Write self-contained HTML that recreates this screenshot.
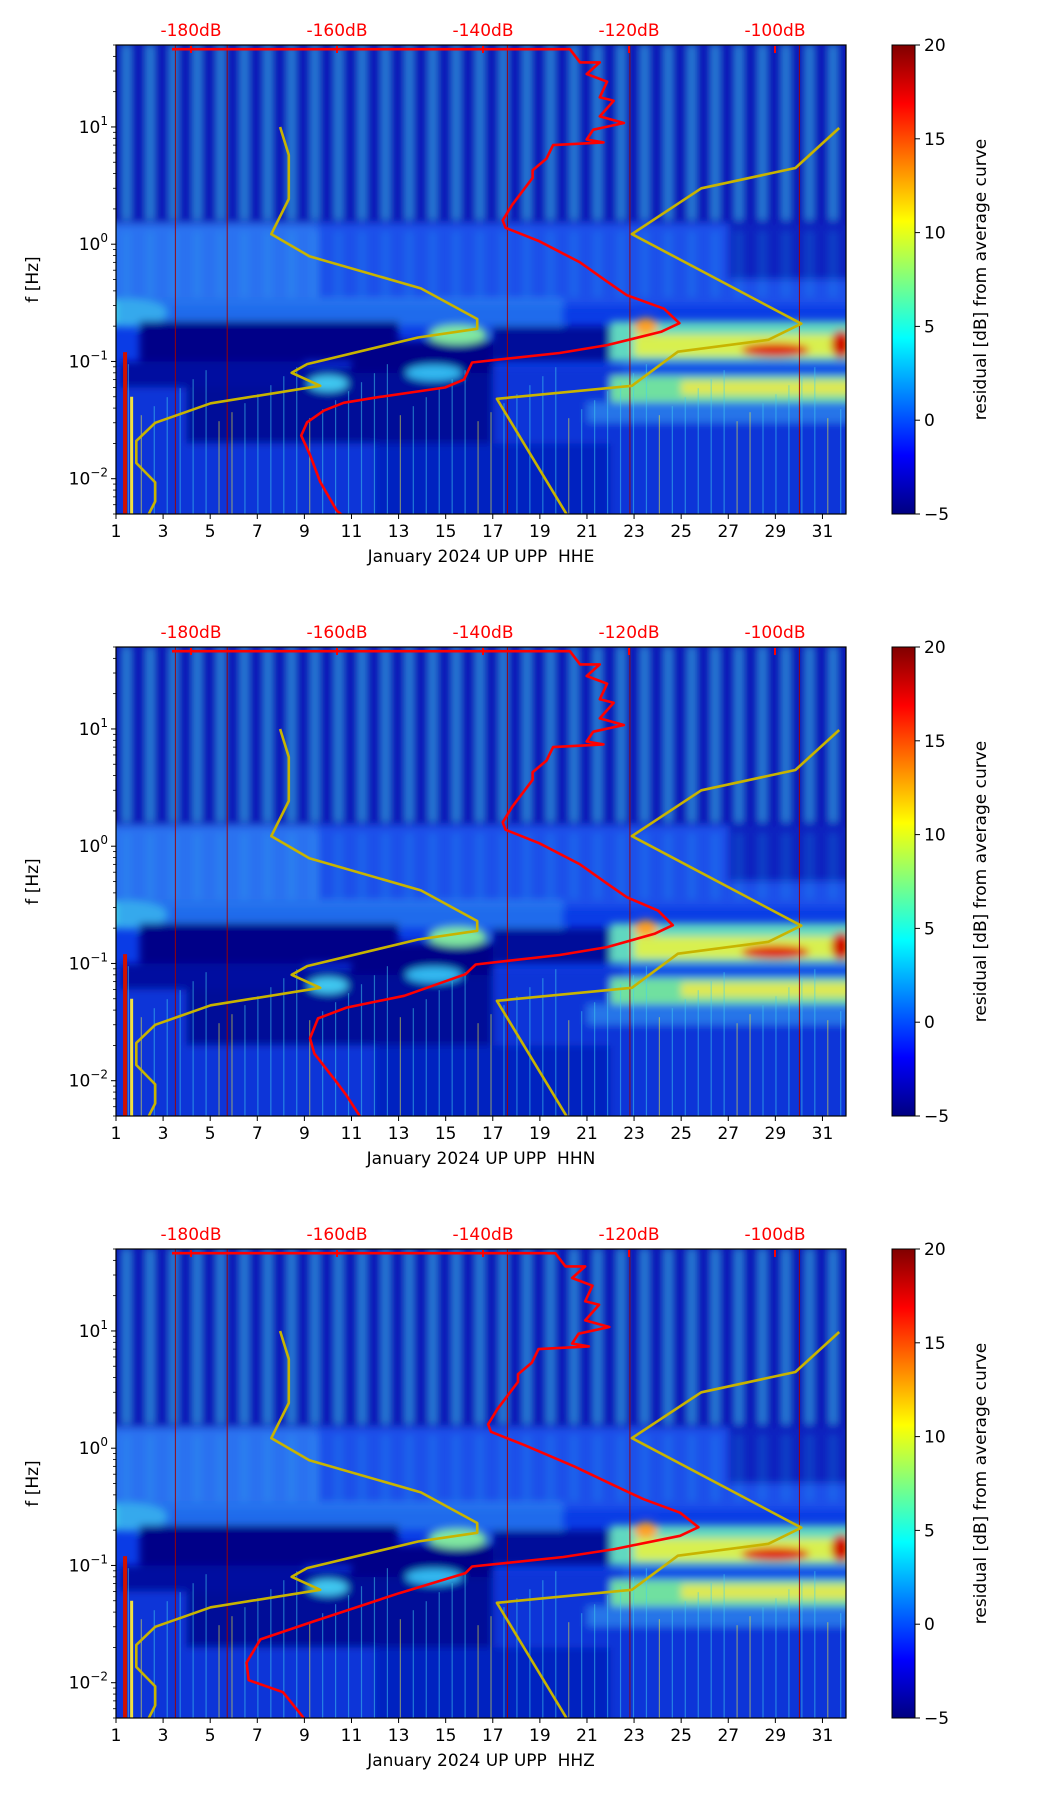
<!DOCTYPE html>
<html><head><meta charset="utf-8"><style>
html,body{margin:0;padding:0;background:#fff;}
svg{display:block;font-family:"DejaVu Sans","Liberation Sans",sans-serif;}
</style></head><body>
<svg id="fig" width="1052" height="1806" viewBox="0 0 1052 1806" xmlns="http://www.w3.org/2000/svg">
<defs>
<linearGradient id="jet" x1="0" y1="1" x2="0" y2="0">
<stop offset="0" stop-color="#000080"/><stop offset="0.125" stop-color="#0000ff"/>
<stop offset="0.375" stop-color="#00ffff"/><stop offset="0.625" stop-color="#ffff00"/>
<stop offset="0.875" stop-color="#ff0000"/><stop offset="1" stop-color="#800000"/>
</linearGradient>
<linearGradient id="stripe" x1="0" y1="0" x2="1" y2="0">
<stop offset="0" stop-color="#2aa8f0" stop-opacity="0"/><stop offset="0.5" stop-color="#48d8ec" stop-opacity="0.8"/><stop offset="1" stop-color="#2aa8f0" stop-opacity="0"/>
</linearGradient>
<filter id="blur" x="-5%" y="-5%" width="110%" height="110%"><feGaussianBlur stdDeviation="4"/></filter>
</defs>
</svg>
<script>
// ---- data ----
const dayTicks = [1,3,5,7,9,11,13,15,17,19,21,23,25,27,29,31];
const dbTicks = [-180,-160,-140,-120,-100];
const cbTicks = [-5,0,5,10,15,20];
const channels = ["HHE","HHN","HHZ"];
const nlnmDb = [-167.8,-166.6,-166.6,-169.0,-163.8,-148.5,-140.8,-140.8,-148.9,-164.1,-166.2,-162.3,-177.3,-184.9,-187.5,-187.5,-184.9,-184.9,-186.0];
const nlnmF  = [10,5.77,2.43,1.22,0.79,0.42,0.23,0.19,0.16,0.095,0.080,0.062,0.044,0.030,0.021,0.0136,0.0093,0.0064,0.0047];
const nhnmDb = [-91.2,-97.2,-110.1,-119.6,-96.4,-100.9,-113.3,-119.6,-138.1,-128.3];
const nhnmF  = [9.8,4.47,3.0,1.22,0.21,0.153,0.121,0.062,0.048,0.0047];
const redHHEdb = [-182.6,-128.1,-126.7,-124.0,-125.8,-123.0,-124.0,-122.1,-124.0,-120.7,-124.9,-125.8,-123.5,-130.4,-131.3,-133.2,-133.2,-136.0,-137.3,-136.9,-132.3,-126.7,-123.0,-120.3,-115.2,-113.1,-115.6,-123.0,-129.5,-141.5,-142.6,-145.2,-154.4,-159.1,-161.8,-164.1,-164.9,-163.7,-162.3,-160.0,-159.1];
const redHHEf  = [46,46,35.5,35.5,28.3,24.3,17.9,16.7,12.3,10.8,9.47,7.82,7.38,7.0,5.37,4.28,3.68,2.17,1.60,1.38,1.06,0.70,0.48,0.367,0.282,0.212,0.179,0.138,0.118,0.098,0.070,0.060,0.0496,0.0444,0.0381,0.0303,0.0233,0.016,0.0094,0.0053,0.0048];
const redHHNdb = [-182.6,-128.1,-126.7,-124.0,-125.8,-123.0,-124.0,-122.1,-124.0,-120.7,-124.9,-125.8,-123.5,-130.4,-131.3,-133.2,-133.2,-136.0,-137.3,-136.9,-132.3,-126.7,-123.0,-120.3,-116.0,-114.0,-116.5,-123.0,-129.5,-141.0,-142.4,-150.8,-158.7,-162.6,-163.7,-163.1,-160.2,-158.7,-156.6];
const redHHNf  = [46,46,35.5,35.5,28.3,24.3,17.9,16.7,12.3,10.8,9.47,7.82,7.38,7.0,5.37,4.28,3.68,2.17,1.60,1.38,1.06,0.70,0.48,0.367,0.282,0.212,0.179,0.138,0.118,0.098,0.081,0.053,0.042,0.034,0.023,0.017,0.010,0.0075,0.0047];
const redHHZdb = [-182.6,-130.1,-128.7,-126.0,-127.8,-125.0,-126.0,-124.1,-126.0,-122.7,-126.9,-127.8,-125.5,-132.4,-133.3,-135.2,-135.2,-138.0,-139.3,-138.9,-134.3,-127.5,-122.0,-118.0,-113.0,-110.5,-113.0,-122.0,-129.0,-141.5,-142.4,-151.5,-163.4,-170.5,-172.4,-172.1,-167.4,-164.2];
const redHHZf  = [46,46,35.5,35.5,28.3,24.3,17.9,16.7,12.3,10.8,9.47,7.82,7.38,7.0,5.37,4.28,3.68,2.17,1.60,1.38,1.06,0.70,0.48,0.367,0.282,0.212,0.179,0.138,0.118,0.098,0.086,0.058,0.033,0.0234,0.0148,0.0105,0.0083,0.0047];

const NS="http://www.w3.org/2000/svg";
const svg=document.getElementById('fig');
function el(tag,attrs,parent){const e=document.createElementNS(NS,tag);for(const k in attrs)e.setAttribute(k,attrs[k]);(parent||svg).appendChild(e);return e;}
const AX_L=116, AX_R=846, AX_H=469, FMAX=50, FMIN=0.005;
const tops=[45,647,1249];
const redDb=[redHHEdb,redHHNdb,redHHZdb], redF=[redHHEf,redHHNf,redHHZf];
function X(d){return AX_L+(d-1)*(AX_R-AX_L)/31;}
function XdB(db){return 191+(db+180)*146/20;}

channels.forEach((ch,i)=>{
  const top=tops[i], bot=top+AX_H;
  const Y=f=>top+(Math.log10(FMAX)-Math.log10(f))/(Math.log10(FMAX)-Math.log10(FMIN))*AX_H;
  const g=el('g',{});
  
  
  const cid='clip'+i;
  const cp=el('clipPath',{id:cid},g); el('rect',{x:AX_L,y:top,width:AX_R-AX_L,height:AX_H},cp);
  const sg=el('g',{'clip-path':'url(#'+cid+')'},g);
  
  
  const W=AX_R-AX_L;
  el('rect',{x:AX_L,y:top,width:W,height:AX_H,fill:'#0a3ce6'},sg);
  const bg=el('g',{filter:'url(#blur)'},sg);
  // upper region
  el('rect',{x:AX_L-10,y:top-10,width:W+20,height:Y(1.5)-top+10,fill:'#0818b8'},bg);
  // mid diffuse
  el('rect',{x:AX_L-10,y:Y(1.5),width:W+20,height:Y(0.3)-Y(1.5),fill:'#1a50ea'},bg);
  el('rect',{x:AX_L-10,y:Y(1.5),width:X(10)-AX_L,height:Y(0.35)-Y(1.5),fill:'#2f7cf2','fill-opacity':0.75},bg);
  el('rect',{x:X(27),y:Y(1.5),width:X(32)-X(27)+10,height:Y(0.5)-Y(1.5),fill:'#0a24c0'},bg);
  // low region
  el('rect',{x:AX_L-10,y:Y(0.09),width:W+20,height:bot-Y(0.09)+10,fill:'#0a34d8'},bg);
  el('rect',{x:X(4),y:Y(0.09),width:X(17)-X(4),height:Y(0.02)-Y(0.09),fill:'#040f98'},bg);
  el('rect',{x:X(12),y:Y(0.02),width:X(22)-X(12),height:bot-Y(0.02)+10,fill:'#0624c0'},bg);
  el('ellipse',{cx:X(1.5),cy:Y(0.26),rx:40,ry:14,fill:'#40d8e8'},bg);
  el('rect',{x:X(1),y:Y(0.35),width:X(20)-X(1),height:Y(0.2)-Y(0.35),fill:'#2f8af0','fill-opacity':0.6},bg);
  // dark navy band
  el('rect',{x:X(2),y:Y(0.22),width:X(13)-X(2),height:Y(0.1)-Y(0.22),fill:'#000088'},bg);
  el('rect',{x:X(11),y:Y(0.15),width:X(17)-X(11),height:Y(0.08)-Y(0.15),fill:'#000088'},bg);
  el('rect',{x:X(17),y:Y(0.2),width:X(22)-X(17),height:Y(0.1)-Y(0.2),fill:'#000a9a'},bg);
  el('rect',{x:X(1.2),y:Y(0.1),width:X(9)-X(1.2),height:Y(0.06)-Y(0.1),fill:'#0010a0'},bg);
  el('ellipse',{cx:X(15.5),cy:Y(0.17),rx:30,ry:10,fill:'#80e8a0'},bg);
  el('ellipse',{cx:X(10),cy:Y(0.065),rx:20,ry:8,fill:'#40c8f0'},bg);
  el('ellipse',{cx:X(14.5),cy:Y(0.08),rx:28,ry:8,fill:'#30b8f0'},bg);
  // right side bright bands
  el('rect',{x:X(22),y:Y(0.22),width:X(32)-X(22)+10,height:Y(0.1)-Y(0.22),fill:'#60d8c0'},bg);
  el('rect',{x:X(23),y:Y(0.17),width:X(32)-X(23)+10,height:Y(0.11)-Y(0.17),fill:'#d8f050'},bg);
  el('rect',{x:X(22.5),y:Y(0.095),width:X(32)-X(22.5)+10,height:Y(0.075)-Y(0.095),fill:'#1050e8'},bg);
  el('rect',{x:X(22),y:Y(0.075),width:X(32)-X(22)+10,height:Y(0.045)-Y(0.075),fill:'#70e0a0'},bg);
  el('rect',{x:X(25),y:Y(0.068),width:X(32)-X(25)+10,height:Y(0.052)-Y(0.068),fill:'#e0e850'},bg);
  el('rect',{x:X(21),y:Y(0.045),width:X(32)-X(21)+10,height:Y(0.03)-Y(0.045),fill:'#3090f0','fill-opacity':0.7},bg);
  el('ellipse',{cx:X(29),cy:Y(0.125),rx:34,ry:7,fill:'#e02000'},bg);
  el('ellipse',{cx:X(31.8),cy:Y(0.14),rx:10,ry:14,fill:'#d01000'},bg);
  el('ellipse',{cx:X(23.5),cy:Y(0.2),rx:12,ry:8,fill:'#ffa020'},bg);
  for(let d=1; d<=31; d++){
    const sx=X(d+0.2), sw=X(1.5)-X(1);
    el('rect',{x:sx,y:top,width:sw,height:Y(1.6)-top,fill:'url(#stripe)'},bg);
    el('rect',{x:sx,y:Y(1.3),width:sw,height:Y(0.35)-Y(1.3),fill:'url(#stripe)','fill-opacity':0.3},bg);
  }
  for(let d=1.5; d<32; d+=0.55){
    const hh=(d*37%11)/11;
    el('rect',{x:X(d),y:Y(0.1)+hh*60,width:1.2,height:bot-Y(0.1),fill:hh>0.8?'#f0f040':'#40d0f0','fill-opacity':0.5},sg);
  }
  [3.5,5.7,17.6,22.8,30].forEach(d=>el('rect',{x:X(d),y:top,width:1.1,height:AX_H,fill:'#a00000','fill-opacity':0.85},sg));
  el('rect',{x:X(1.3),y:Y(0.12),width:4,height:bot-Y(0.12),fill:'#d01000'},sg);
  el('rect',{x:X(1.6),y:Y(0.05),width:3,height:bot-Y(0.05),fill:'#f0e040'},sg);
  const poly=(dbs,fs)=>dbs.map((d,k)=>XdB(d).toFixed(1)+','+Y(fs[k]).toFixed(1)).join(' ');
  const nl=el('polyline',{points:poly(nlnmDb,nlnmF),fill:'none',stroke:'#c8b400','stroke-width':2.6,'stroke-linejoin':'round'},sg);
  
  
  const nh=el('polyline',{points:poly(nhnmDb,nhnmF),fill:'none',stroke:'#c8b400','stroke-width':2.6,'stroke-linejoin':'round'},sg);
  
  
  const rc=el('polyline',{points:poly(redDb[i],redF[i]),fill:'none',stroke:'#ff0000','stroke-width':2.6,'stroke-linejoin':'round'},sg);
  
  
  el('rect',{x:AX_L,y:top,width:W,height:AX_H,fill:'none',stroke:'#000','stroke-width':1.2},g);
  dayTicks.forEach(d=>{
    el('line',{x1:X(d),x2:X(d),y1:bot,y2:bot+5,stroke:'#000','stroke-width':1},g);
    const t=el('text',{x:X(d),y:bot+23,'text-anchor':'middle','font-size':17,fill:'#000'},g);
    
    
    t.textContent=d;
  });
  const xl=el('text',{x:(AX_L+AX_R)/2,y:bot+48,'text-anchor':'middle','font-size':17,fill:'#000','xml:space':'preserve',style:'white-space:pre'},g);
  
  
  xl.textContent='January 2024 UP UPP  '+ch;
  dbTicks.forEach(db=>{
    const t=el('text',{x:XdB(db),y:top-9,'text-anchor':'middle','font-size':17,fill:'#ff0000'},g);
    
    
    t.textContent=db+'dB';
    el('line',{x1:XdB(db),x2:XdB(db),y1:top+1,y2:top+8,stroke:'#ff0000','stroke-width':2},g);
  });
  for(let e=-3;e<=1;e++){
    for(let m=1;m<10;m++){
      const f=m*Math.pow(10,e); if(f<FMIN||f>FMAX) continue;
      const yy=Y(f);
      el('line',{x1:AX_L,x2:AX_L-(m===1?5:3),y1:yy,y2:yy,stroke:'#000','stroke-width':m===1?1:0.8},g);
    }
    if(e>=-2){
      const yy=Y(Math.pow(10,e));
      const t=el('text',{x:AX_L-8,y:yy+6,'text-anchor':'end','font-size':17,fill:'#000'},g);
      
      
      const s1=el('tspan',{},t); s1.textContent='10';
      const s2=el('tspan',{dy:-8,'font-size':12},t); s2.textContent=(e<0?'\u2212'+(-e):e);
    }
  }
  const yl=el('text',{x:38,y:top+AX_H/2,'text-anchor':'middle','font-size':17,fill:'#000',transform:'rotate(-90 38 '+(top+AX_H/2)+')'},g);
  
  
  yl.textContent='f [Hz]';
  const cb=el('rect',{x:892,y:top,width:23,height:AX_H,fill:'url(#jet)',stroke:'#000','stroke-width':1},g);
  
  
  cbTicks.forEach(v=>{
    const yy=bot-(v+5)/25*AX_H;
    el('line',{x1:915,x2:920,y1:yy,y2:yy,stroke:'#000','stroke-width':1},g);
    const t=el('text',{x:924,y:yy+6,'font-size':17,fill:'#000'},g);
    
    
    t.textContent=v<0?'\u2212'+(-v):v;
  });
  const cl=el('text',{x:986,y:top+AX_H/2,'text-anchor':'middle','font-size':17,fill:'#000',transform:'rotate(-90 986 '+(top+AX_H/2)+')'},g);
  
  
  cl.textContent='residual [dB] from average curve';
});
</script>
</body></html>
